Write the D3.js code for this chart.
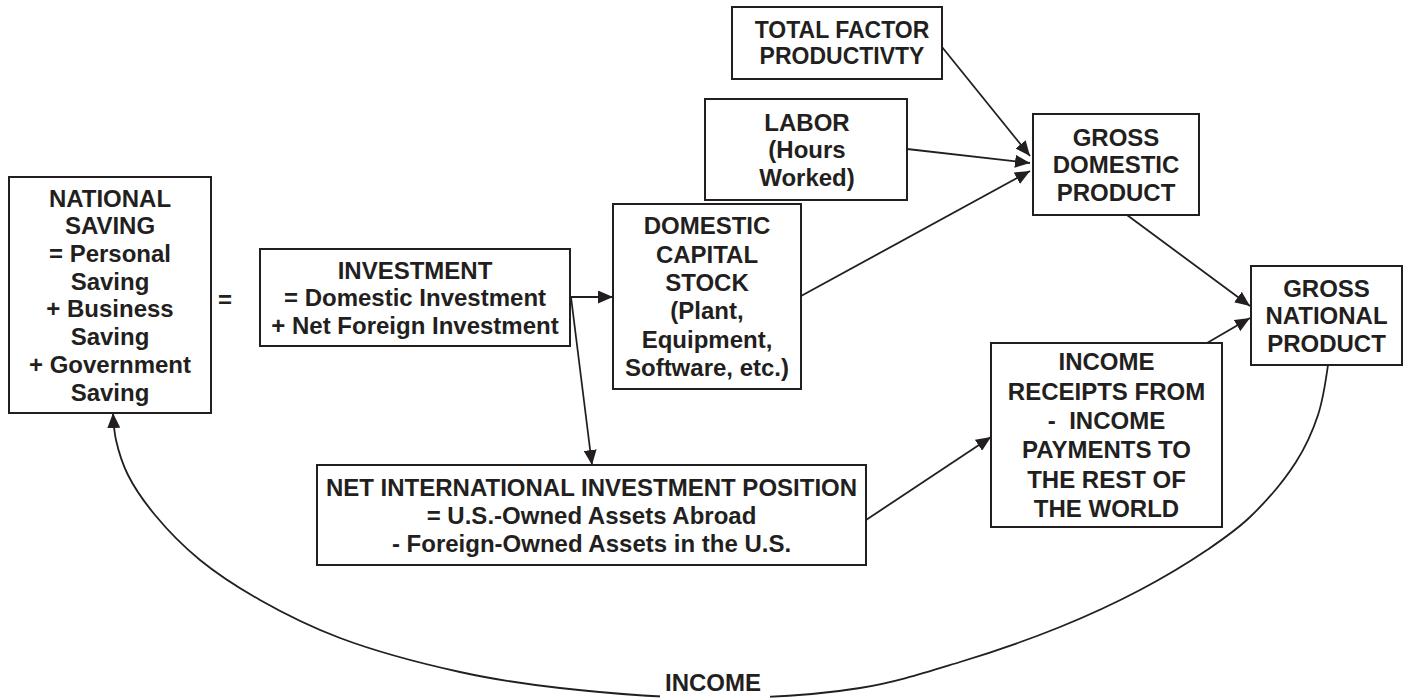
<!DOCTYPE html>
<html>
<head>
    <title>Saving, investment and income</title>
    <script type="text/javascript" src="https://cdn.jsdelivr.net/npm/d3@7"></script>
    <meta charset="utf-8" />
    <style>
        body { margin: 0; background: #fff; }
        svg { display: block; }
    </style>
</head>
<body>
    <script type="text/javascript">

        //Width and height
        var w = 1411;
        var h = 698;
        var ink = "#231f20";

        //Box labels, one array of lines per box
        var boxIds = ["saving", "invest", "capital", "tfp", "labor", "gdp", "gnp", "income", "niip"];
        var boxLines = [
            ["NATIONAL", "SAVING", "= Personal", "Saving", "+ Business", "Saving", "+ Government", "Saving"],
            ["INVESTMENT", "= Domestic Investment", "+ Net Foreign Investment"],
            ["DOMESTIC", "CAPITAL", "STOCK", "(Plant,", "Equipment,", "Software, etc.)"],
            ["TOTAL FACTOR", "PRODUCTIVTY"],
            ["LABOR", "(Hours", "Worked)"],
            ["GROSS", "DOMESTIC", "PRODUCT"],
            ["GROSS", "NATIONAL", "PRODUCT"],
            ["INCOME", "RECEIPTS FROM", "-  INCOME", "PAYMENTS TO", "THE REST OF", "THE WORLD"],
            ["NET INTERNATIONAL INVESTMENT POSITION", "= U.S.-Owned Assets Abroad", "- Foreign-Owned Assets in the U.S."]
        ];

        //Box layout: left, top, right, bottom, line spacing, font size, text shift
        var boxLayout = [
            [9, 177, 211, 413, 27.7, 24, 0],
            [260, 249, 570, 346, 27.5, 24, 0],
            [613, 204, 801, 389, 28.3, 24, 0],
            [732, 7, 942, 79, 26, 23, 5],
            [705, 99, 907, 200, 27.5, 24, 1],
            [1033, 114, 1199, 215, 27.5, 24, 0],
            [1251, 266, 1402, 365, 27.5, 24, 0],
            [991, 343, 1222, 527, 29.4, 24, 0],
            [317, 465, 866, 565, 28, 24, 0]
        ];

        //Straight arrows: from point -> to point
        var arrows = [
            [[570, 297], [613, 297]],
            [[571, 297], [592, 465]],
            [[866, 520], [991, 437]],
            [[1207, 343], [1250, 318]],
            [[1127, 215], [1250, 306]],
            [[942, 47], [1030, 156]],
            [[907, 149], [1030, 163]],
            [[801, 296], [1030, 171]]
        ];

        //Income loop from GNP back to national saving
        var loopPoints = [
            [1328, 365], [1318, 415], [1296, 462], [1250, 517], [1207, 550],
            [1140, 590], [1060, 627], [960, 662], [860, 688], [715, 698],
            [560, 688], [460, 672], [340, 638], [260, 600], [200, 560],
            [155, 515], [128, 475], [116, 440], [113, 413]
        ];

        var boxes = boxIds.map(function (id, i) {
            return {
                id: id, lines: boxLines[i],
                x0: boxLayout[i][0], y0: boxLayout[i][1],
                x1: boxLayout[i][2], y1: boxLayout[i][3],
                lh: boxLayout[i][4], fs: boxLayout[i][5], dx: boxLayout[i][6]
            };
        });

        //Create SVG element
        var svg = d3.select("body")
                    .append("svg")
                    .attr("width", w)
                    .attr("height", h);

        svg.append("rect")
           .attr("width", w)
           .attr("height", h)
           .attr("fill", "#fff");

        svg.append("defs")
           .append("marker")
           .attr("id", "head")
           .attr("viewBox", "0 0 10 10")
           .attr("refX", 10)
           .attr("refY", 5)
           .attr("markerUnits", "userSpaceOnUse")
           .attr("markerWidth", 15)
           .attr("markerHeight", 13)
           .attr("preserveAspectRatio", "none")
           .attr("orient", "auto")
           .append("path")
           .attr("d", "M0,0L10,5L0,10Z")
           .attr("fill", ink);

        var line = d3.line();

        //Loop curve
        svg.append("path")
           .attr("d", d3.line().curve(d3.curveCatmullRom.alpha(0.5))(loopPoints))
           .attr("fill", "none")
           .attr("stroke", ink)
           .attr("stroke-width", 1.8)
           .attr("marker-end", "url(#head)");

        //Arrows
        svg.selectAll("path.arrow")
           .data(arrows)
           .enter()
           .append("path")
           .attr("class", "arrow")
           .attr("d", function (d) { return line(d); })
           .attr("fill", "none")
           .attr("stroke", ink)
           .attr("stroke-width", 1.8)
           .attr("marker-end", "url(#head)");

        //Boxes
        var g = svg.selectAll("g.box")
           .data(boxes)
           .enter()
           .append("g")
           .attr("class", "box");

        g.append("rect")
           .attr("x", function (d) { return d.x0; })
           .attr("y", function (d) { return d.y0; })
           .attr("width", function (d) { return d.x1 - d.x0; })
           .attr("height", function (d) { return d.y1 - d.y0; })
           .attr("fill", "#fff")
           .attr("stroke", ink)
           .attr("stroke-width", 2);

        g.each(function (d) {
            var cx = (d.x0 + d.x1) / 2 + d.dx;
            var cy = (d.y0 + d.y1) / 2;
            var n = d.lines.length;
            d3.select(this).selectAll("text")
              .data(d.lines)
              .enter()
              .append("text")
              .attr("x", cx)
              .attr("y", function (t, i) { return cy + (i - (n - 1) / 2) * d.lh; })
              .attr("dy", "0.36em")
              .attr("text-anchor", "middle")
              .attr("font-family", "'Liberation Sans', Arial, Helvetica, sans-serif")
              .attr("font-weight", "bold")
              .attr("font-size", d.fs + "px")
              .attr("fill", ink)
              .style("white-space", "pre")
              .text(function (t) { return t; });
        });

        //Equals sign between saving and investment
        svg.append("text")
           .attr("x", 225)
           .attr("y", 299)
           .attr("dy", "0.36em")
           .attr("text-anchor", "middle")
           .attr("font-family", "'Liberation Sans', Arial, Helvetica, sans-serif")
           .attr("font-weight", "bold")
           .attr("font-size", "24px")
           .attr("fill", ink)
           .text("=");

        //Loop label, with a gap in the curve behind it
        svg.append("rect")
           .attr("x", 660)
           .attr("y", 668)
           .attr("width", 110)
           .attr("height", 30)
           .attr("fill", "#fff");

        svg.append("text")
           .attr("x", 713)
           .attr("y", 682)
           .attr("dy", "0.36em")
           .attr("text-anchor", "middle")
           .attr("font-family", "'Liberation Sans', Arial, Helvetica, sans-serif")
           .attr("font-weight", "bold")
           .attr("font-size", "24px")
           .attr("fill", ink)
           .text("INCOME");

    </script>
</body>
</html>
